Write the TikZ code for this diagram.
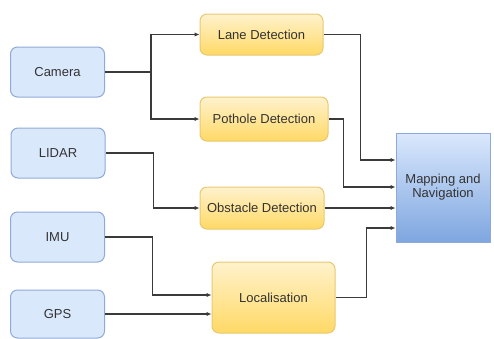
\documentclass[tikz,border=0pt]{standalone}
\usepackage{fontspec}
\setmainfont{Liberation Sans}
\usetikzlibrary{arrows.meta}
\definecolor{srcfill}{HTML}{DAE8FC}
\definecolor{srcdraw}{HTML}{8FAAD6}
\definecolor{ytop}{HTML}{FFF2CC}
\definecolor{ybot}{HTML}{FFD966}
\definecolor{ydraw}{HTML}{E8C870}
\definecolor{mbot}{HTML}{7EA6E0}
\definecolor{txt}{HTML}{333333}
\definecolor{linec}{HTML}{3A3A3A}
\begin{document}
\begin{tikzpicture}[x=1pt,y=-1pt,
  every node/.style={font=\fontsize{13}{15}\selectfont, text=txt, inner sep=1pt},
  srcbox/.style={draw=srcdraw, fill=srcfill, rounded corners=7pt, line width=1pt, minimum width=94pt, minimum height=50pt},
  procbox/.style={draw=ydraw, top color=ytop, bottom color=ybot, rounded corners=7pt, line width=1pt},
  mapbox/.style={draw=srcdraw, top color=srcfill, bottom color=mbot, line width=1pt, minimum width=94pt, minimum height=109pt, align=center},
  conn/.style={draw=linec, line width=1.1pt, -{Latex[length=5pt,width=4.5pt]}}]
\useasboundingbox (0,0) rectangle (494,338);
\node[srcbox] (cam) at (57.5,72) {Camera};
\node[srcbox] (lid) at (58,153) {LIDAR};
\node[srcbox] (imu) at (57.5,237) {IMU};
\node[srcbox, minimum height=48pt] (gps) at (57.5,314) {GPS};
\node[procbox, minimum width=123pt, minimum height=41pt] (lane) at (261.5,34.5) {Lane Detection};
\node[procbox, minimum width=128pt, minimum height=44pt] (pot) at (264,119) {Pothole Detection};
\node[procbox, minimum width=124pt, minimum height=42pt] (obs) at (262,208) {Obstacle Detection};
\node[procbox, minimum width=123pt, minimum height=71pt] (loc) at (273.5,297.5) {Localisation};
\node[mapbox] (map) at (443,187.5) {\raisebox{5pt}{\begin{tabular}{@{}c@{}}Mapping and\\[-1pt]Navigation\end{tabular}}};
\draw[conn] (cam.east) -- ++(46,0) |- (lane.west);
\draw[conn] (cam.east) -- ++(46,0) |- (pot.west);
\draw[conn] (lid.east) -- ++(48,0) |- (obs.west);
\draw[conn] (imu.east) -- ++(47.5,0) |- ([yshift=2.5pt]loc.west);
\draw[conn] (gps.east) -- (gps.east -| loc.west);
\draw[conn] (lane.east) -- ++(37,0) |- ([yshift=27.5pt]map.west);
\draw[conn] (pot.east) -- ++(15,0) |- ([yshift=0.5pt]map.west);
\draw[conn] (obs.east) -- (obs.east -| map.west);
\draw[conn] (loc.east) -- ++(31,0) |- ([yshift=-40.5pt]map.west);
\end{tikzpicture}
\end{document}
